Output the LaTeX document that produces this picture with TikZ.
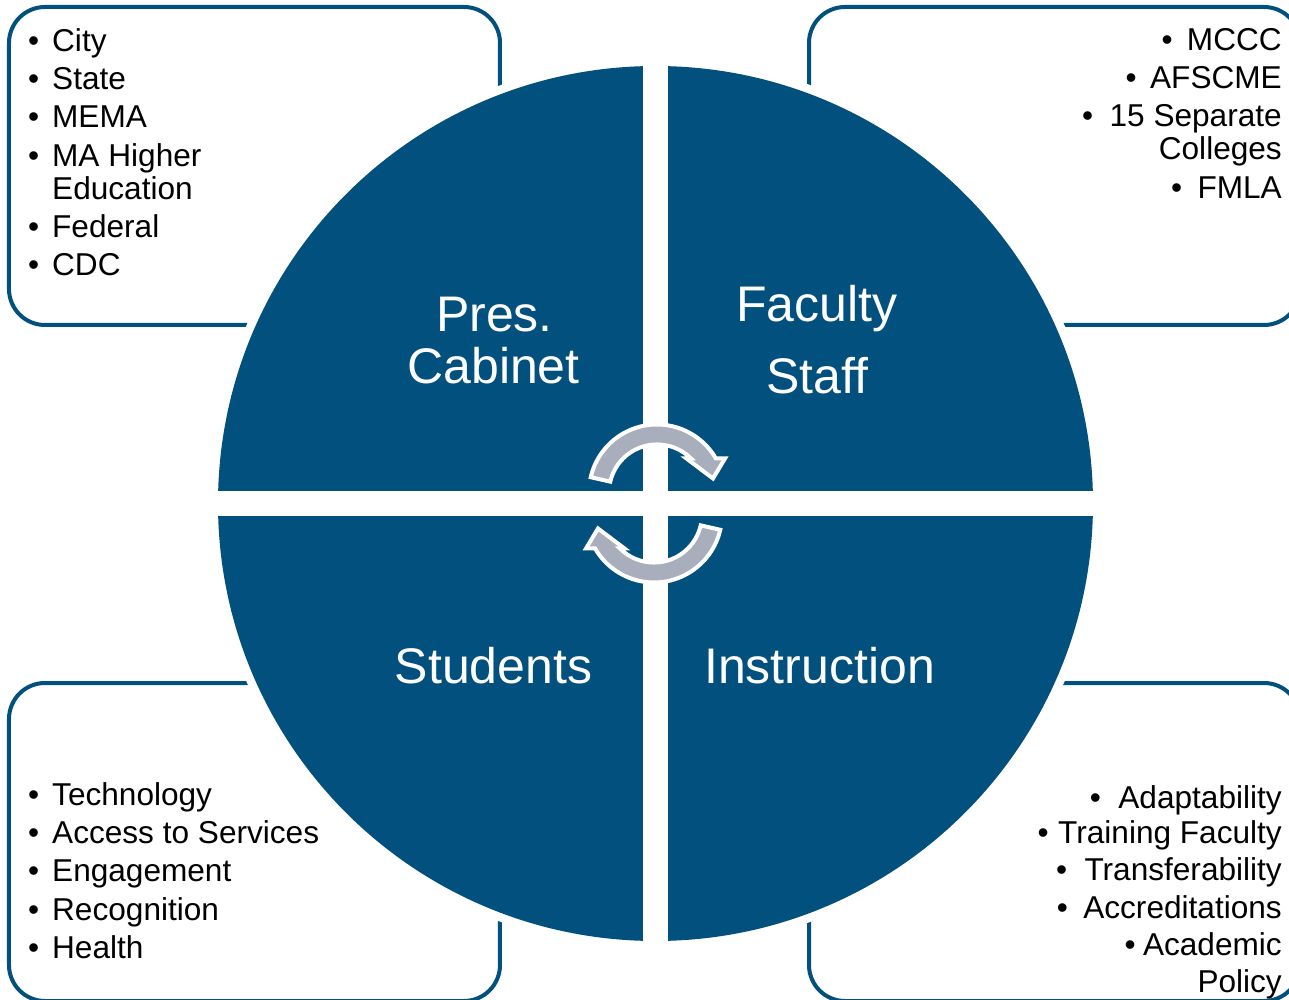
\documentclass[tikz,border=0pt]{standalone}
\usepackage{fontspec}
\setmainfont{Liberation Sans}
\definecolor{quadblue}{HTML}{02507D}
\definecolor{cyclegray}{HTML}{A8AEBB}
\newcommand{\blt}[1][24pt]{\makebox[#1][l]{\textbullet}}

\begin{document}
\begin{tikzpicture}[x=1pt,y=1pt,
  panel/.style={draw=quadblue,line width=4pt,rounded corners=36pt,minimum width=491pt,minimum height=318pt,inner sep=0pt},
  item/.style={inner sep=0pt,font=\fontsize{31.6}{33}\selectfont},
  lbl/.style={anchor=base,inner sep=0pt,text=white,font=\fontsize{50}{50}\selectfont},
  cyc/.style={fill=cyclegray,draw=white,line width=4pt}
]
\useasboundingbox (-655.5,-496.5) rectangle (633.5,503.5);
\clip (-655.5,-496.5) rectangle (633.5,503.5);

% corner panels
\node[panel] (tlbox) at (-401,337.5) {};
\node[panel] (trbox) at (399,337.5) {};
\node[panel] (blbox) at (-401,-338.5) {};
\node[panel] (brbox) at (399,-338.5) {};

% the disc, with a white rim over the panels and a white cross
\fill[white] (0,0) circle (446);
\fill[quadblue] (0,0) circle (437.5);
\fill[white] (-12.5,-450) rectangle (12.5,450);
\fill[white] (-450,-12.5) rectangle (450,12.5);

% cycle arrows
\foreach \r in {0,180}
  \draw[cyc,rotate=\r] (1.5,11) ++(167:68) arc[start angle=167,end angle=30,radius=68]
    -- (69.5,45) -- (57.5,25) -- (31,45) -- (35.5,45)
    arc[start angle=45,end angle=167,radius=48] -- cycle;

% quarter labels
\node[lbl] (pres) at (-161,171.5) {Pres.};
\node[lbl] (cabinet) at (-162,119.5) {Cabinet};
\node[lbl] (faculty) at (161.5,181.5) {Faculty};
\node[lbl] (staff) at (162,110) {Staff};
\node[lbl] (students) at (-162,-179.5) {Students};
\node[lbl] (instruction) at (164,-179.5) {Instruction};

% top left list
\node[item,anchor=base west] (city) at (-627.5,451.5) {\blt City};
\node[item,anchor=base west] (state) at (-627.5,413.5) {\blt State};
\node[item,anchor=base west] (mema) at (-627.5,375.5) {\blt MEMA};
\node[item,anchor=base west] (mahigher) at (-627.5,336.5) {\blt MA Higher};
\node[item,anchor=base west] (educ) at (-603.5,303.5) {Education};
\node[item,anchor=base west] (federal) at (-627.5,265.5) {\blt Federal};
\node[item,anchor=base west] (cdc) at (-627.5,227.5) {\blt CDC};

% top right list
\node[item,anchor=base east] (mccc) at (626.5,452.5) {\blt[25.5pt]MCCC};
\node[item,anchor=base east] (afscme) at (626.5,414.5) {\blt[24.5pt]AFSCME};
\node[item,anchor=base east] (separate) at (626.5,376.5) {\blt[27.5pt]15 Separate};
\node[item,anchor=base east] (colleges) at (626.5,343.5) {Colleges};
\node[item,anchor=base east] (fmla) at (626.5,304.5) {\blt[26.5pt]FMLA};

% bottom left list
\node[item,anchor=base west] (tech) at (-627.5,-301.5) {\blt Technology};
\node[item,anchor=base west] (access) at (-627.5,-339.5) {\blt Access to Services};
\node[item,anchor=base west] (engage) at (-627.5,-377.5) {\blt Engagement};
\node[item,anchor=base west] (recog) at (-627.5,-416.5) {\blt Recognition};
\node[item,anchor=base west] (health) at (-627.5,-454.5) {\blt Health};

% bottom right list
\node[item,anchor=base east] (adapt) at (626.5,-304.5) {\blt[28.5pt]Adaptability};
\node[item,anchor=base east] (training) at (626.5,-339.5) {\blt[20.5pt]Training Faculty};
\node[item,anchor=base east] (transfer) at (626.5,-376.5) {\blt[28.5pt]Transferability};
\node[item,anchor=base east] (accred) at (626.5,-414.5) {\blt[26.5pt]Accreditations};
\node[item,anchor=base east] (academic) at (626.5,-451.5) {\blt[18.5pt]Academic};
\node[item,anchor=base east] (policy) at (626.5,-488.5) {Policy};
\end{tikzpicture}
\end{document}
